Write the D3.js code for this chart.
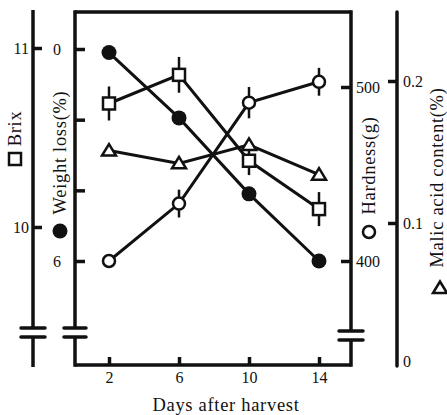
<!DOCTYPE html>
<html>
<head>
<meta charset="utf-8">
<script src="https://cdn.jsdelivr.net/npm/d3@7"></script>
<style>
  body { margin: 0; background: #fff; }
  svg text { font-family: "Liberation Serif", "Times New Roman", serif; fill: #111; }
</style>
</head>
<body>
<div id="plotspace"></div>
<script>
// values
var days = [2, 6, 10, 14];
var brix = [10.69, 10.85, 10.37, 10.10];
var brixErr = [0.095, 0.10, 0.08, 0.095];
var weightLoss = [0.1, 1.95, 4.1, 6.0];
var hardness = [400, 433, 491, 503];
var hardnessErr = [0, 8, 9, 8];
var malic = [0.151, 0.142, 0.155, 0.134];

var dayTicks = [2, 6, 10, 14];
var brixTicks = [10, 11];
var weightTicks = [0, 2, 4, 6];
var weightLabels = [0, 6];
var hardnessTicks = [400, 500];
var malicTicks = [0, 0.1, 0.2];

var width = 447, height = 415;
// note: "top" is taken by window.top, so keep plot* names
var plotLeft = 75, plotRight = 351, plotTop = 12, plotBottom = 365;
var brixX = 33, malicX = 397;
var ink = "#111";

var svg = d3.select("#plotspace").
    append("svg").
    attr("width", width).
    attr("height", height);

var x = d3.scaleLinear().domain([2, 14]).range([109, 319]);
var yBrix = d3.scaleLinear().domain([10, 11]).range([227, 48]);
var yWeight = d3.scaleLinear().domain([0, 6]).range([49, 261]);
var yHard = d3.scaleLinear().domain([400, 500]).range([261, 87]);
var yMalic = d3.scaleLinear().domain([0, 0.2]).range([365, 81]);

// vertical line with a "break" (gap + two short bars)
var brokenLine = function(xpos, y0, y1, b0, b1, half) {
    var g = svg.append("g").attr("stroke", ink).attr("stroke-width", 3.5);
    g.append("line").attr("x1", xpos).attr("x2", xpos).attr("y1", y0).attr("y2", b0);
    g.append("line").attr("x1", xpos).attr("x2", xpos).attr("y1", b1).attr("y2", y1);
    g.append("line").attr("x1", xpos - half).attr("x2", xpos + half).attr("y1", b0).attr("y2", b0).attr("stroke-linecap", "round");
    g.append("line").attr("x1", xpos - half).attr("x2", xpos + half).attr("y1", b1).attr("y2", b1).attr("stroke-linecap", "round");
};

brokenLine(brixX, 10, 367, 328, 337, 12);
brokenLine(plotLeft, plotTop - 1.75, plotBottom + 1.75, 328, 337, 11);
brokenLine(plotRight, plotTop - 1.75, plotBottom + 1.75, 331, 340, 12);

svg.append("line").attr("x1", malicX).attr("x2", malicX).attr("y1", 12).attr("y2", 366).
    attr("stroke", ink).attr("stroke-width", 3.5).attr("stroke-linecap", "round");
svg.append("path").
    attr("d", "M" + plotLeft + "," + plotTop + "H" + plotRight + "M" + plotLeft + "," + plotBottom + "H" + plotRight).
    attr("stroke", ink).attr("stroke-width", 3.5).attr("fill", "none");

var styleAxis = function(g, fontSize) {
    g.select(".domain").remove();
    g.selectAll(".tick line").attr("stroke", ink).attr("stroke-width", 3.5);
    g.selectAll(".tick text").attr("font-size", fontSize).attr("fill", ink).
        style("font-family", "'Liberation Serif', serif");
};

svg.append("g").
    attr("transform", "translate(" + brixX + ",0)").
    call(d3.axisLeft(yBrix).tickValues(brixTicks).tickSize(-9).tickPadding(4).tickFormat(d3.format("d"))).
    call(styleAxis, 16);

svg.append("g").
    attr("transform", "translate(" + plotLeft + ",0)").
    call(d3.axisLeft(yWeight).tickValues(weightTicks).tickSize(-10).tickPadding(14).
        tickFormat(function(d) { return weightLabels.indexOf(d) > -1 ? d : ""; })).
    call(styleAxis, 16);

svg.append("g").
    attr("transform", "translate(" + plotRight + ",0)").
    call(d3.axisRight(yHard).tickValues(hardnessTicks).tickSize(-10).tickPadding(5)).
    call(styleAxis, 16);

var malicAxis = svg.append("g").
    attr("transform", "translate(" + malicX + ",0)").
    call(d3.axisRight(yMalic).tickValues(malicTicks).tickSize(-9).tickPadding(6).
        tickFormat(function(d) { return d === 0 ? "0" : d3.format(".1f")(d); })).
    call(styleAxis, 16);
malicAxis.selectAll(".tick").filter(function(d) { return d === 0; }).
    select("line").remove();
malicAxis.selectAll(".tick").filter(function(d) { return d === 0; }).
    select("text").attr("dy", "0.1em");

svg.append("g").
    attr("transform", "translate(0," + plotBottom + ")").
    call(d3.axisBottom(x).tickValues(dayTicks).tickSize(-8).tickPadding(7)).
    call(styleAxis, 16);

// markers
var marker = function(g, kind, px, py) {
    if (kind === "filled") {
        g.append("circle").attr("cx", px).attr("cy", py).attr("r", 7.5).attr("fill", ink);
    } else if (kind === "circle") {
        g.append("circle").attr("cx", px).attr("cy", py).attr("r", 6).
            attr("fill", "#fff").attr("stroke", ink).attr("stroke-width", 2.5);
    } else if (kind === "square") {
        g.append("rect").attr("x", px - 6).attr("y", py - 6).attr("width", 12).attr("height", 12).
            attr("fill", "#fff").attr("stroke", ink).attr("stroke-width", 2.5);
    } else {
        g.append("path").
            attr("d", "M" + px + "," + (py - 6.5) + "L" + (px + 7) + "," + (py + 5) + "L" + (px - 7) + "," + (py + 5) + "Z").
            attr("fill", "#fff").attr("stroke", ink).attr("stroke-width", 2.5).attr("stroke-linejoin", "miter");
    }
};

var series = [
    {values: weightLoss, err: null, y: yWeight, kind: "filled"},
    {values: hardness, err: hardnessErr, y: yHard, kind: "circle"},
    {values: brix, err: brixErr, y: yBrix, kind: "square"},
    {values: malic, err: null, y: yMalic, kind: "triangle"}
];

var lineGen = d3.line();
series.forEach(function(s) {
    var pts = days.map(function(d, i) { return [x(d), s.y(s.values[i])]; });
    svg.append("path").attr("d", lineGen(pts)).
        attr("fill", "none").attr("stroke", ink).attr("stroke-width", 3);
});

series.forEach(function(s) {
    var g = svg.append("g");
    days.forEach(function(d, i) {
        if (s.err && s.err[i] > 0) {
            g.append("line").
                attr("x1", x(d)).attr("x2", x(d)).
                attr("y1", s.y(s.values[i] - s.err[i])).attr("y2", s.y(s.values[i] + s.err[i])).
                attr("stroke", ink).attr("stroke-width", 2.5);
        }
        marker(g, s.kind, x(d), s.y(s.values[i]));
    });
});

// axis titles (rotated), with their symbol below
var title = function(cx, base, ytop, ybot, text, kind, sy) {
    svg.append("text").
        attr("transform", "translate(" + base + "," + ((ytop + ybot) / 2) + ") rotate(-90)").
        attr("text-anchor", "middle").
        attr("font-size", 18.5).
        attr("letter-spacing", 0.7).
        attr("fill", ink).
        text(text);
    marker(svg, kind, cx, sy);
};

title(15, 21, 110, 147, "Brix", "square", 159);
title(60, 66, 93, 212, "Weight loss(%)", "filled", 231);
title(369, 375, 117, 214, "Hardness(g)", "circle", 232);
title(440, 443, 87, 268, "Malic acid content(%)", "triangle", 288);

svg.append("text").
    attr("x", 226).attr("y", 411).
    attr("text-anchor", "middle").
    attr("font-size", 18.5).
    attr("letter-spacing", 0.7).
    attr("fill", ink).
    text("Days after harvest");
</script>
</body>
</html>
